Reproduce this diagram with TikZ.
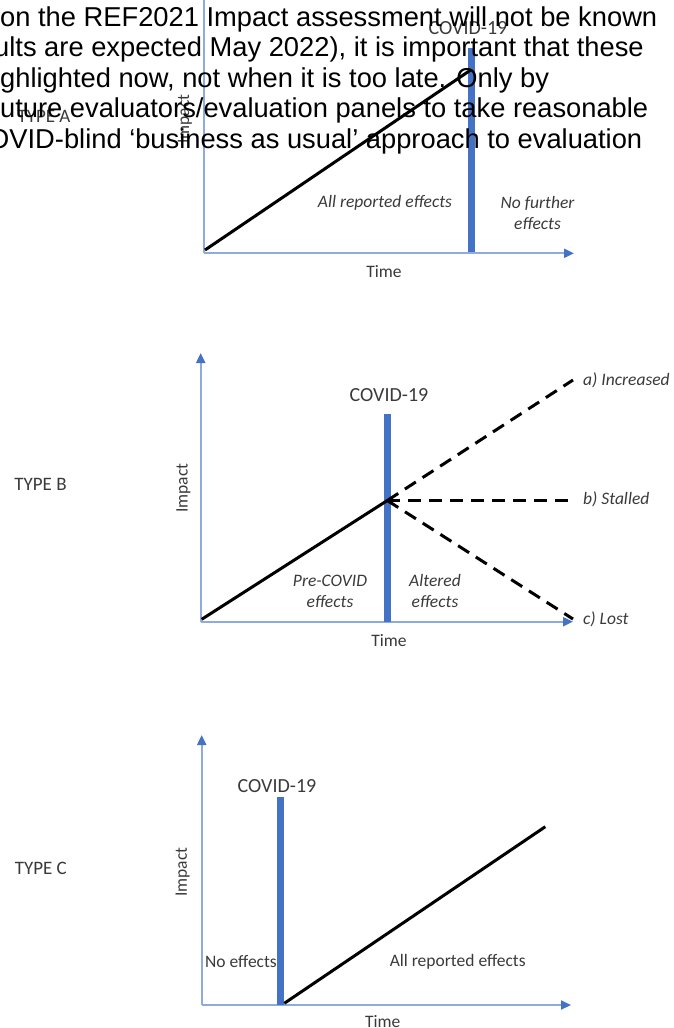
\documentclass[tikz,border=0pt]{standalone}
\usepackage{fontspec}
\setmainfont{Liberation Sans}
\newfontfamily\calf{Carlito}
\usetikzlibrary{arrows.meta}
\definecolor{axisblue}{HTML}{8FAADC}
\definecolor{barblue}{HTML}{4472C4}
\definecolor{lbl}{HTML}{3A3A3A}
\tikzset{
 axisline/.style={draw=axisblue, line width=2pt},
 axisarrow/.style={axisline, -{Triangle[length=10pt,width=9pt,color=barblue]}},
 covidbar/.style={draw=barblue, line width=7.5pt},
 trend/.style={draw=black, line width=3pt},
 trenddash/.style={draw=black, line width=3pt, dash pattern=on 13pt off 8pt},
 lab/.style={font=\calf\fontsize{17.5}{21.3}\selectfont, text=lbl, inner sep=0pt, align=center},
 itlab/.style={font=\calf\itshape\fontsize{17.5}{21.3}\selectfont, text=lbl, inner sep=0pt, align=center},
 covidlab/.style={font=\calf\fontsize{20}{22}\selectfont, text=lbl, inner sep=0pt},
 typelab/.style={font=\calf\fontsize{19}{22}\selectfont, text=lbl, inner sep=0pt},
 para/.style={font=\fontsize{27.3}{30}\selectfont, text=black, inner sep=0pt, anchor=base west},
}
\begin{document}
\begin{tikzpicture}[x=1pt,y=-1pt]
\useasboundingbox (0,0) rectangle (674,1028);
\clip (0,0) rectangle (674,1028);

% ---------------- TYPE A ----------------
\coordinate (Ao) at (204,253.3);
\coordinate (Atop) at (204,0);
\coordinate (Ax) at (574,253.3);
\coordinate (Abt) at (471.7,48);
\coordinate (Abb) at (471.7,252);
\coordinate (As) at (205,250);
\coordinate (Ae) at (470.7,70);
\draw[axisline] (Ao) -- (Atop);
\draw[axisarrow] (Ao) -- (Ax);
\draw[covidbar] (Abb) -- (Abt);
\draw[trend] (As) -- (Ae);
\node[covidlab] (Acov) at (468,28.3) {COVID-19};
\node[itlab] (Aall) at (385,202.7) {All reported effects};
\node[itlab] (Anof) at (537.5,213.3) {No further\\effects};
\node[lab] (Atime) at (384,272) {Time};
\node[lab, rotate=90] (Aimp) at (185,119) {Impact};
\node[typelab] (Atype) at (44,116.5) {TYPE A};

% ---------------- TYPE B ----------------
\coordinate (Bo) at (200.7,621.7);
\coordinate (By) at (200.7,353);
\coordinate (Bx) at (573,621.7);
\coordinate (Bbt) at (387.3,414);
\coordinate (Bbb) at (387.3,621.7);
\coordinate (Bs) at (201.7,619.3);
\coordinate (J) at (387.3,500.5);
\coordinate (Ba) at (573,380);
\coordinate (Bb) at (573,500.5);
\coordinate (Bc) at (573,619);
\draw[axisarrow] (Bo) -- (By);
\draw[axisarrow] (Bo) -- (Bx);
\draw[covidbar] (Bbb) -- (Bbt);
\draw[trend] (Bs) -- (J);
\draw[trenddash] (J) -- (Ba);
\draw[trenddash] (J) -- (Bb);
\draw[trenddash] (J) -- (Bc);
\node[covidlab] (Bcov) at (389,395) {COVID-19};
\node[itlab] (Bpre) at (330,591.7) {Pre-COVID\\effects};
\node[itlab] (Balt) at (435,591.3) {Altered\\effects};
\node[lab] (Btime) at (389,641) {Time};
\node[lab, rotate=90] (Bimp) at (183.3,488) {Impact};
\node[typelab] (Btype) at (40.5,484.7) {TYPE B};
\node[itlab, anchor=west] (Binc) at (583,380.7) {a) Increased};
\node[itlab, anchor=west] (Bsta) at (583,499.3) {b) Stalled};
\node[itlab, anchor=west] (Blos) at (583,619.3) {c) Lost};

% ---------------- TYPE C ----------------
\coordinate (Co) at (201.7,1005);
\coordinate (Cy) at (201.7,735);
\coordinate (Cx) at (571,1005);
\coordinate (Cbt) at (280.7,796.7);
\coordinate (Cbb) at (280.7,1005);
\coordinate (Cs) at (284.3,1003.3);
\coordinate (Ce) at (545.3,826.7);
\draw[axisarrow] (Co) -- (Cy);
\draw[axisarrow] (Co) -- (Cx);
\draw[covidbar] (Cbb) -- (Cbt);
\draw[trend] (Cs) -- (Ce);
\node[covidlab] (Ccov) at (277,786) {COVID-19};
\node[lab] (Cno) at (241,961.7) {No effects};
\node[lab] (Call) at (457.7,961.7) {All reported effects};
\node[lab] (Ctime) at (382.8,1021.7) {Time};
\node[lab, rotate=90] (Cimp) at (182.7,872) {Impact};
\node[typelab] (Ctype) at (40.8,868) {TYPE C};

% ---------------- overlaid paragraph text ----------------
\node[para] (p1) at (0,26) {on the REF2021 Impact assessment will not be known};
\node[para] (p2) at (-6,56.6) {ults are expected May 2022), it is important that these};
\node[para] (p3) at (0,87.2) {ghlighted now, not when it is too late.  Only by};
\node[para] (p4) at (0,117.8) {uture evaluators/evaluation panels to take reasonable};
\node[para] (p5) at (-12,148.4) {OVID-blind ‘business as usual’ approach to evaluation};
\end{tikzpicture}
\end{document}
